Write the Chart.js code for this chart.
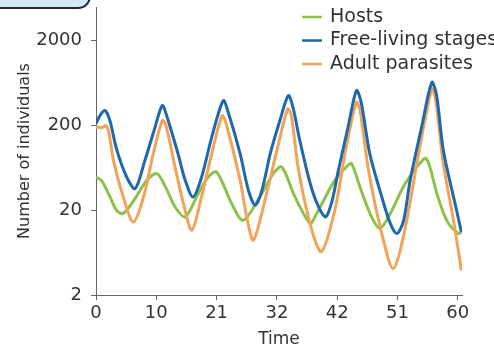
<!DOCTYPE html>
<html>
<head>
<meta charset="utf-8">
<script src="https://cdn.jsdelivr.net/npm/chart.js@4.4.1/dist/chart.umd.min.js"></script>
<style>
  body { margin: 0; background: #fff; }
  canvas { display: block; }
</style>
</head>
<body>
<canvas id="cycleChart" width="494" height="351"></canvas>
<script>
// x tick positions and the labels printed under them
const timeTicks = [0, 10, 20, 30, 40, 50, 60];
const timeLabels = ['0', '10', '21', '32', '42', '51', '60'];
const countTicks = [2, 20, 200, 2000];

// hosts
const hostTime = [0, 0.9, 2.3, 3.4, 4.5, 6.7, 8.4, 10.1, 11.5, 13.1, 14.8, 17, 18.6, 20, 22.5, 24.4, 27.2, 29.4, 30.8, 33, 35.5, 36.3, 39.6, 41.8, 42.4, 44, 45.7, 47.1, 48.8, 51, 53.2, 54.8, 56.5, 58.2, 60.1, 60.6];
const hostCount = [49, 45, 29, 20, 18.3, 29, 45, 54, 38, 22, 16.7, 32, 49, 56.5, 24, 15.2, 29, 54, 65, 28.7, 14, 16.7, 45, 68, 71, 34, 16.7, 12.2, 18.3, 38, 65, 81, 32, 15, 10.6, 11];

// free-living stages
const freeTime = [0, 0.7, 1.5, 2.3, 3.4, 5.1, 6.5, 8.1, 9.8, 11, 11.8, 13.6, 14.8, 16.1, 17.5, 19.2, 21.1, 21.9, 23.9, 25.3, 26.4, 27.5, 28.9, 30.5, 31.9, 32.7, 33.8, 36, 38, 39.1, 40.2, 41.8, 43.2, 44, 45.4, 47.4, 48.8, 49.9, 51, 52.1, 54, 55.7, 56.5, 57.6, 59.8, 60.6];
const freeCount = [211, 265, 300, 230, 106, 49, 36, 77, 191, 344, 250, 93, 45, 28.7, 49, 146, 393, 290, 93, 34, 23, 34, 93, 229, 451, 320, 133, 32, 16.7, 25, 59, 191, 516, 370, 93, 28.7, 14, 10.6, 15, 45, 191, 646, 450, 102, 20, 11];

// adult parasites
const adultTime = [0, 1.1, 1.6, 2.1, 2.9, 4.5, 6.2, 7.9, 9.5, 11, 11.6, 13.1, 14.5, 15.9, 17.5, 19.2, 20.9, 21.5, 23.9, 25, 26.1, 28, 30, 31.8, 32.4, 33.6, 35.8, 37.4, 39.6, 41.6, 43.2, 43.8, 45.2, 47.4, 49.3, 51.2, 53.5, 55.7, 56.3, 57.6, 59.3, 60.6];
const adultCount = [191, 190, 200, 170, 77, 29, 14.5, 29, 93, 229, 200, 65, 24, 11.6, 29, 93, 262, 220, 45, 16.7, 8.9, 26, 102, 314, 260, 59, 11.6, 6.5, 20, 122, 376, 300, 59, 10.6, 4.1, 11.6, 93, 541, 420, 71, 15, 3.9];

const FONT = 'DejaVu Sans';
const TEXT = '#333';
const AXIS = '#666';

function toPoints(xs, ys) {
    return xs.map((x, i) => ({ x: x, y: ys[i] }));
}

function series(label, xs, ys, color, order) {
    return {
        label: label,
        data: toPoints(xs, ys),
        borderColor: color,
        backgroundColor: color,
        borderWidth: 3,
        pointRadius: 0,
        tension: 0.3,
        fill: false,
        order: order
    };
}

// little rounded tab in the top-left corner
const cornerTab = {
    id: 'cornerTab',
    beforeDraw(chart) {
        const c = chart.ctx;
        c.save();
        c.beginPath();
        c.roundRect(-20, -20, 110, 28, 12);
        c.fillStyle = '#d4e9f7';
        c.fill();
        c.lineWidth = 2;
        c.strokeStyle = '#1e2a36';
        c.stroke();
        c.restore();
    }
};

// legend sits over the top right of the plot
const lineLegend = {
    id: 'lineLegend',
    afterDraw(chart) {
        const c = chart.ctx;
        const rows = ['Hosts', 'Free-living stages', 'Adult parasites'];
        c.save();
        c.font = '19px "' + FONT + '"';
        c.textBaseline = 'middle';
        rows.forEach((name, i) => {
            const ds = chart.data.datasets.find(d => d.label === name);
            const y = 17 + i * 23.5;
            c.strokeStyle = ds.borderColor;
            c.lineWidth = 2.5;
            c.beginPath();
            c.moveTo(302, y);
            c.lineTo(322, y);
            c.stroke();
            c.fillStyle = TEXT;
            c.fillText(name, 330, y);
        });
        c.restore();
    }
};

const ctx = document.getElementById('cycleChart').getContext('2d');
const cycleChart = new Chart(ctx, {
    type: 'line',
    data: {
        datasets: [
            series('Hosts', hostTime, hostCount, '#8cc24a', 3),
            series('Free-living stages', freeTime, freeCount, '#1f68ac', 1),
            series('Adult parasites', adultTime, adultCount, '#f2a358', 2)
        ]
    },
    options: {
        responsive: false,
        animation: false,
        layout: { padding: { top: 7, right: 32, left: 0, bottom: 0 } },
        plugins: {
            legend: { display: false },
            tooltip: { enabled: false }
        },
        scales: {
            x: {
                type: 'linear',
                min: 0,
                max: 60.7,
                afterBuildTicks: s => { s.ticks = timeTicks.map(v => ({ value: v })); },
                afterFit: s => { s.height = 56; s.paddingLeft = 0; s.paddingRight = 0; },
                border: { color: AXIS, width: 1 },
                grid: { drawOnChartArea: false, drawTicks: true, tickLength: 5, color: AXIS },
                ticks: {
                    color: TEXT,
                    padding: 3,
                    maxRotation: 0,
                    font: { family: FONT, size: 18 },
                    callback: (v, i) => timeLabels[i]
                },
                title: {
                    display: true,
                    text: 'Time',
                    color: TEXT,
                    font: { family: FONT, size: 17 },
                    padding: { top: 0, bottom: 1 }
                }
            },
            y: {
                type: 'logarithmic',
                min: 2,
                max: 5000,
                afterBuildTicks: s => { s.ticks = countTicks.map(v => ({ value: v })); },
                afterFit: s => { s.width = 96; s.paddingTop = 0; s.paddingBottom = 0; },
                border: { color: AXIS, width: 1 },
                grid: { drawOnChartArea: false, drawTicks: true, tickLength: 5, color: AXIS },
                ticks: {
                    color: TEXT,
                    padding: 9,
                    font: { family: FONT, size: 18 },
                    callback: v => String(v)
                },
                title: {
                    display: true,
                    text: 'Number of individuals',
                    color: TEXT,
                    font: { family: FONT, size: 16 },
                    padding: { top: 15, bottom: 0 }
                }
            }
        }
    },
    plugins: [cornerTab, lineLegend]
});
</script>
</body>
</html>
